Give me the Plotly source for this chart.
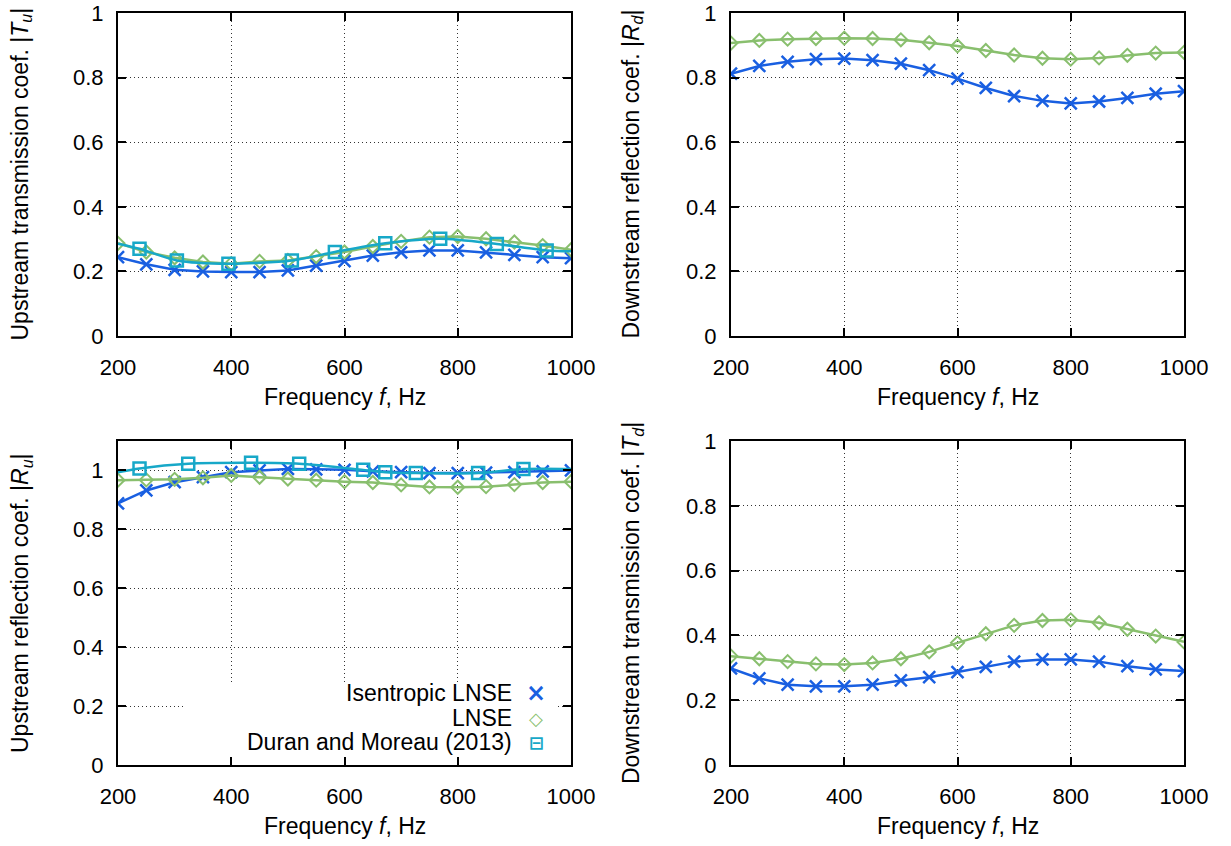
import plotly.graph_objects as go

# ---------------- data ----------------
freq = [200, 250, 300, 350, 400, 450, 500, 550, 600, 650, 700, 750, 800, 850, 900, 950, 1000]

# Upstream transmission |T_u|
tu_isen = [0.244, 0.222, 0.205, 0.200, 0.198, 0.198, 0.203, 0.218, 0.232, 0.249, 0.259, 0.265, 0.265, 0.259, 0.251, 0.244, 0.241]
tu_lnse = [0.287, 0.260, 0.242, 0.229, 0.224, 0.231, 0.234, 0.246, 0.260, 0.277, 0.293, 0.306, 0.308, 0.301, 0.291, 0.280, 0.267]
tu_duran_f = [200, 238, 304, 395, 507, 583, 672, 769, 869, 957, 1000]
tu_duran = [0.286, 0.270, 0.234, 0.224, 0.234, 0.260, 0.287, 0.301, 0.285, 0.265, 0.262]

# Downstream reflection |R_d|
rd_isen = [0.812, 0.836, 0.849, 0.857, 0.859, 0.854, 0.843, 0.823, 0.797, 0.768, 0.743, 0.728, 0.720, 0.726, 0.737, 0.750, 0.758]
rd_lnse = [0.907, 0.915, 0.919, 0.921, 0.922, 0.921, 0.917, 0.908, 0.898, 0.884, 0.870, 0.860, 0.857, 0.861, 0.869, 0.876, 0.878]

# Upstream reflection |R_u|
ru_isen = [0.888, 0.932, 0.960, 0.977, 0.994, 1.000, 1.005, 1.004, 1.002, 0.997, 0.994, 0.991, 0.991, 0.993, 0.994, 0.997, 1.000]
ru_lnse = [0.967, 0.968, 0.970, 0.975, 0.983, 0.977, 0.971, 0.967, 0.962, 0.959, 0.951, 0.944, 0.943, 0.945, 0.952, 0.959, 0.962]
ru_duran_f = [200, 238, 324, 435, 520, 633, 672, 726, 836, 916, 1000]
ru_duran = [0.994, 1.007, 1.023, 1.026, 1.023, 1.002, 0.994, 0.991, 0.991, 1.005, 1.005]

# Downstream transmission |T_d|
td_isen = [0.298, 0.267, 0.248, 0.243, 0.243, 0.248, 0.261, 0.271, 0.287, 0.303, 0.319, 0.326, 0.326, 0.319, 0.305, 0.295, 0.290]
td_lnse = [0.336, 0.328, 0.319, 0.312, 0.310, 0.315, 0.328, 0.349, 0.377, 0.405, 0.431, 0.446, 0.448, 0.439, 0.419, 0.398, 0.380]

x_ticks = [200, 400, 600, 800, 1000]
y_ticks = [0, 0.2, 0.4, 0.6, 0.8, 1]

names = ["Isentropic LNSE", "LNSE", "Duran and Moreau (2013)"]
y_titles = [
    "Upstream transmission coef. |<i>T<sub>u</sub></i>|",
    "Downstream reflection coef. |<i>R<sub>d</sub></i>|",
    "Upstream reflection coef. |<i>R<sub>u</sub></i>|",
    "Downstream transmission coef. |<i>T<sub>d</sub></i>|",
]
x_title = "Frequency <i>f</i>, Hz"

# ---------------- style ----------------
BLUE = "rgb(25,95,225)"
GREEN = "rgb(137,191,110)"
CYAN = "rgb(23,168,200)"
FONT = "Liberation Sans, Arial, Helvetica, sans-serif"
W, H = 1231, 846

fig = go.Figure()


def add_model(ax, ay, ys_isen, ys_lnse):
    fig.add_trace(go.Scatter(x=freq, y=ys_isen, mode="lines+markers", xaxis=ax, yaxis=ay,
                             line=dict(color=BLUE, width=2.5),
                             marker=dict(symbol="x-thin-open", size=12, line=dict(color=BLUE, width=2.5)),
                             name=names[0], showlegend=False))
    fig.add_trace(go.Scatter(x=freq, y=ys_lnse, mode="lines+markers", xaxis=ax, yaxis=ay,
                             line=dict(color=GREEN, width=2.5),
                             marker=dict(symbol="diamond-open", size=10, color=GREEN, line=dict(color=GREEN, width=2)),
                             name=names[1], showlegend=False))


def add_duran(ax, ay, fx, fy):
    fig.add_trace(go.Scatter(x=fx, y=fy, mode="lines", xaxis=ax, yaxis=ay,
                             line=dict(color=CYAN, width=2.5, shape="spline", smoothing=0.8),
                             name=names[2], showlegend=False, hoverinfo="skip"))
    fig.add_trace(go.Scatter(x=fx[1:-1], y=fy[1:-1], mode="markers", xaxis=ax, yaxis=ay,
                             marker=dict(symbol="square-open", size=12, color=CYAN, line=dict(color=CYAN, width=2.5)),
                             name=names[2], showlegend=False))


add_model("x", "y", tu_isen, tu_lnse)
add_duran("x", "y", tu_duran_f, tu_duran)
add_model("x2", "y2", rd_isen, rd_lnse)
add_model("x3", "y3", ru_isen, ru_lnse)
add_duran("x3", "y3", ru_duran_f, ru_duran)
add_model("x4", "y4", td_isen, td_lnse)

# pixel geometry of the four frames
LEFT = (118, 571)
RIGHT = (731, 1184)
TOP = (13, 336)
BOT = (441, 765)


def xdom(px):
    return [px[0] / W, px[1] / W]


def ydom(py):
    return [1 - py[1] / H, 1 - py[0] / H]


axis_common = dict(showline=True, linewidth=2, linecolor="black", mirror="allticks",
                   ticks="inside", ticklen=8, tickwidth=1.5, tickcolor="black",
                   showgrid=True, gridcolor="#333333", griddash="1px,3px", gridwidth=1,
                   zeroline=False, automargin=False,
                   tickfont=dict(family=FONT, size=22, color="black"))

layout = dict(width=W, height=H, margin=dict(l=0, r=0, t=0, b=0, autoexpand=False),
              paper_bgcolor="white", plot_bgcolor="white", showlegend=False,
              font=dict(family=FONT, size=22, color="black"))

geo = [("x", "y", LEFT, TOP, 1.0), ("x2", "y2", RIGHT, TOP, 1.0),
       ("x3", "y3", LEFT, BOT, 1.1), ("x4", "y4", RIGHT, BOT, 1.0)]
for xa, ya, px, py, ymax in geo:
    xk = "xaxis" if xa == "x" else "xaxis" + xa[1:]
    yk = "yaxis" if ya == "y" else "yaxis" + ya[1:]
    layout[xk] = dict(axis_common, domain=xdom(px), anchor=ya, range=[200, 1000],
                      tickvals=x_ticks, ticklabelstandoff=11)
    layout[yk] = dict(axis_common, domain=ydom(py), anchor=xa, range=[0, ymax],
                      tickvals=y_ticks, ticklabelstandoff=8)

fig.update_layout(**layout)

ann = []
title_x = [21, 632]
for i, (xa, ya, px, py, ymax) in enumerate(geo):
    cx = (px[0] + px[1]) / 2
    cy = (py[0] + py[1]) / 2
    ann.append(dict(text=y_titles[i], x=title_x[i % 2] / W, y=1 - cy / H, xref="paper", yref="paper",
                    textangle=-90, showarrow=False, xanchor="center", yanchor="middle",
                    font=dict(family=FONT, size=23, color="black")))
    ann.append(dict(text=x_title, x=cx / W, y=1 - (py[1] + 61) / H, xref="paper", yref="paper",
                    showarrow=False, xanchor="center", yanchor="middle",
                    font=dict(family=FONT, size=23, color="black")))

# key (text right-aligned, sample symbol on the right, as in the original)
key_rows = [693, 718, 742]
key_syms = [("\u00d7", BLUE, 24), ("\u25c7", GREEN, 18), ("\u229f", CYAN, 18)]
for (row, name, (sym, col, sz)) in zip(key_rows, names, key_syms):
    ann.append(dict(text=name, x=513 / W, y=1 - row / H, xref="paper", yref="paper",
                    showarrow=False, xanchor="right", yanchor="middle", borderpad=0,
                    font=dict(family=FONT, size=23, color="black")))
    ann.append(dict(text="<b>" + sym + "</b>", x=536 / W, y=1 - row / H, xref="paper", yref="paper",
                    showarrow=False, xanchor="center", yanchor="middle", borderpad=0,
                    font=dict(family="DejaVu Sans", size=sz, color=col)))

fig.update_layout(annotations=ann)

# white key box hiding the grid behind the key (drawn between grid and traces)
hz_per_px = 800 / (LEFT[1] - LEFT[0])
val_per_px = 1.1 / (BOT[1] - BOT[0])
fig.add_shape(type="rect", xref="x3", yref="y3",
              x0=200 + (185 - LEFT[0]) * hz_per_px, x1=200 + (556 - LEFT[0]) * hz_per_px,
              y0=0.004, y1=(BOT[1] - 682) * val_per_px,
              fillcolor="white", line=dict(width=0), layer="between")

fig.write_html("out.html")
